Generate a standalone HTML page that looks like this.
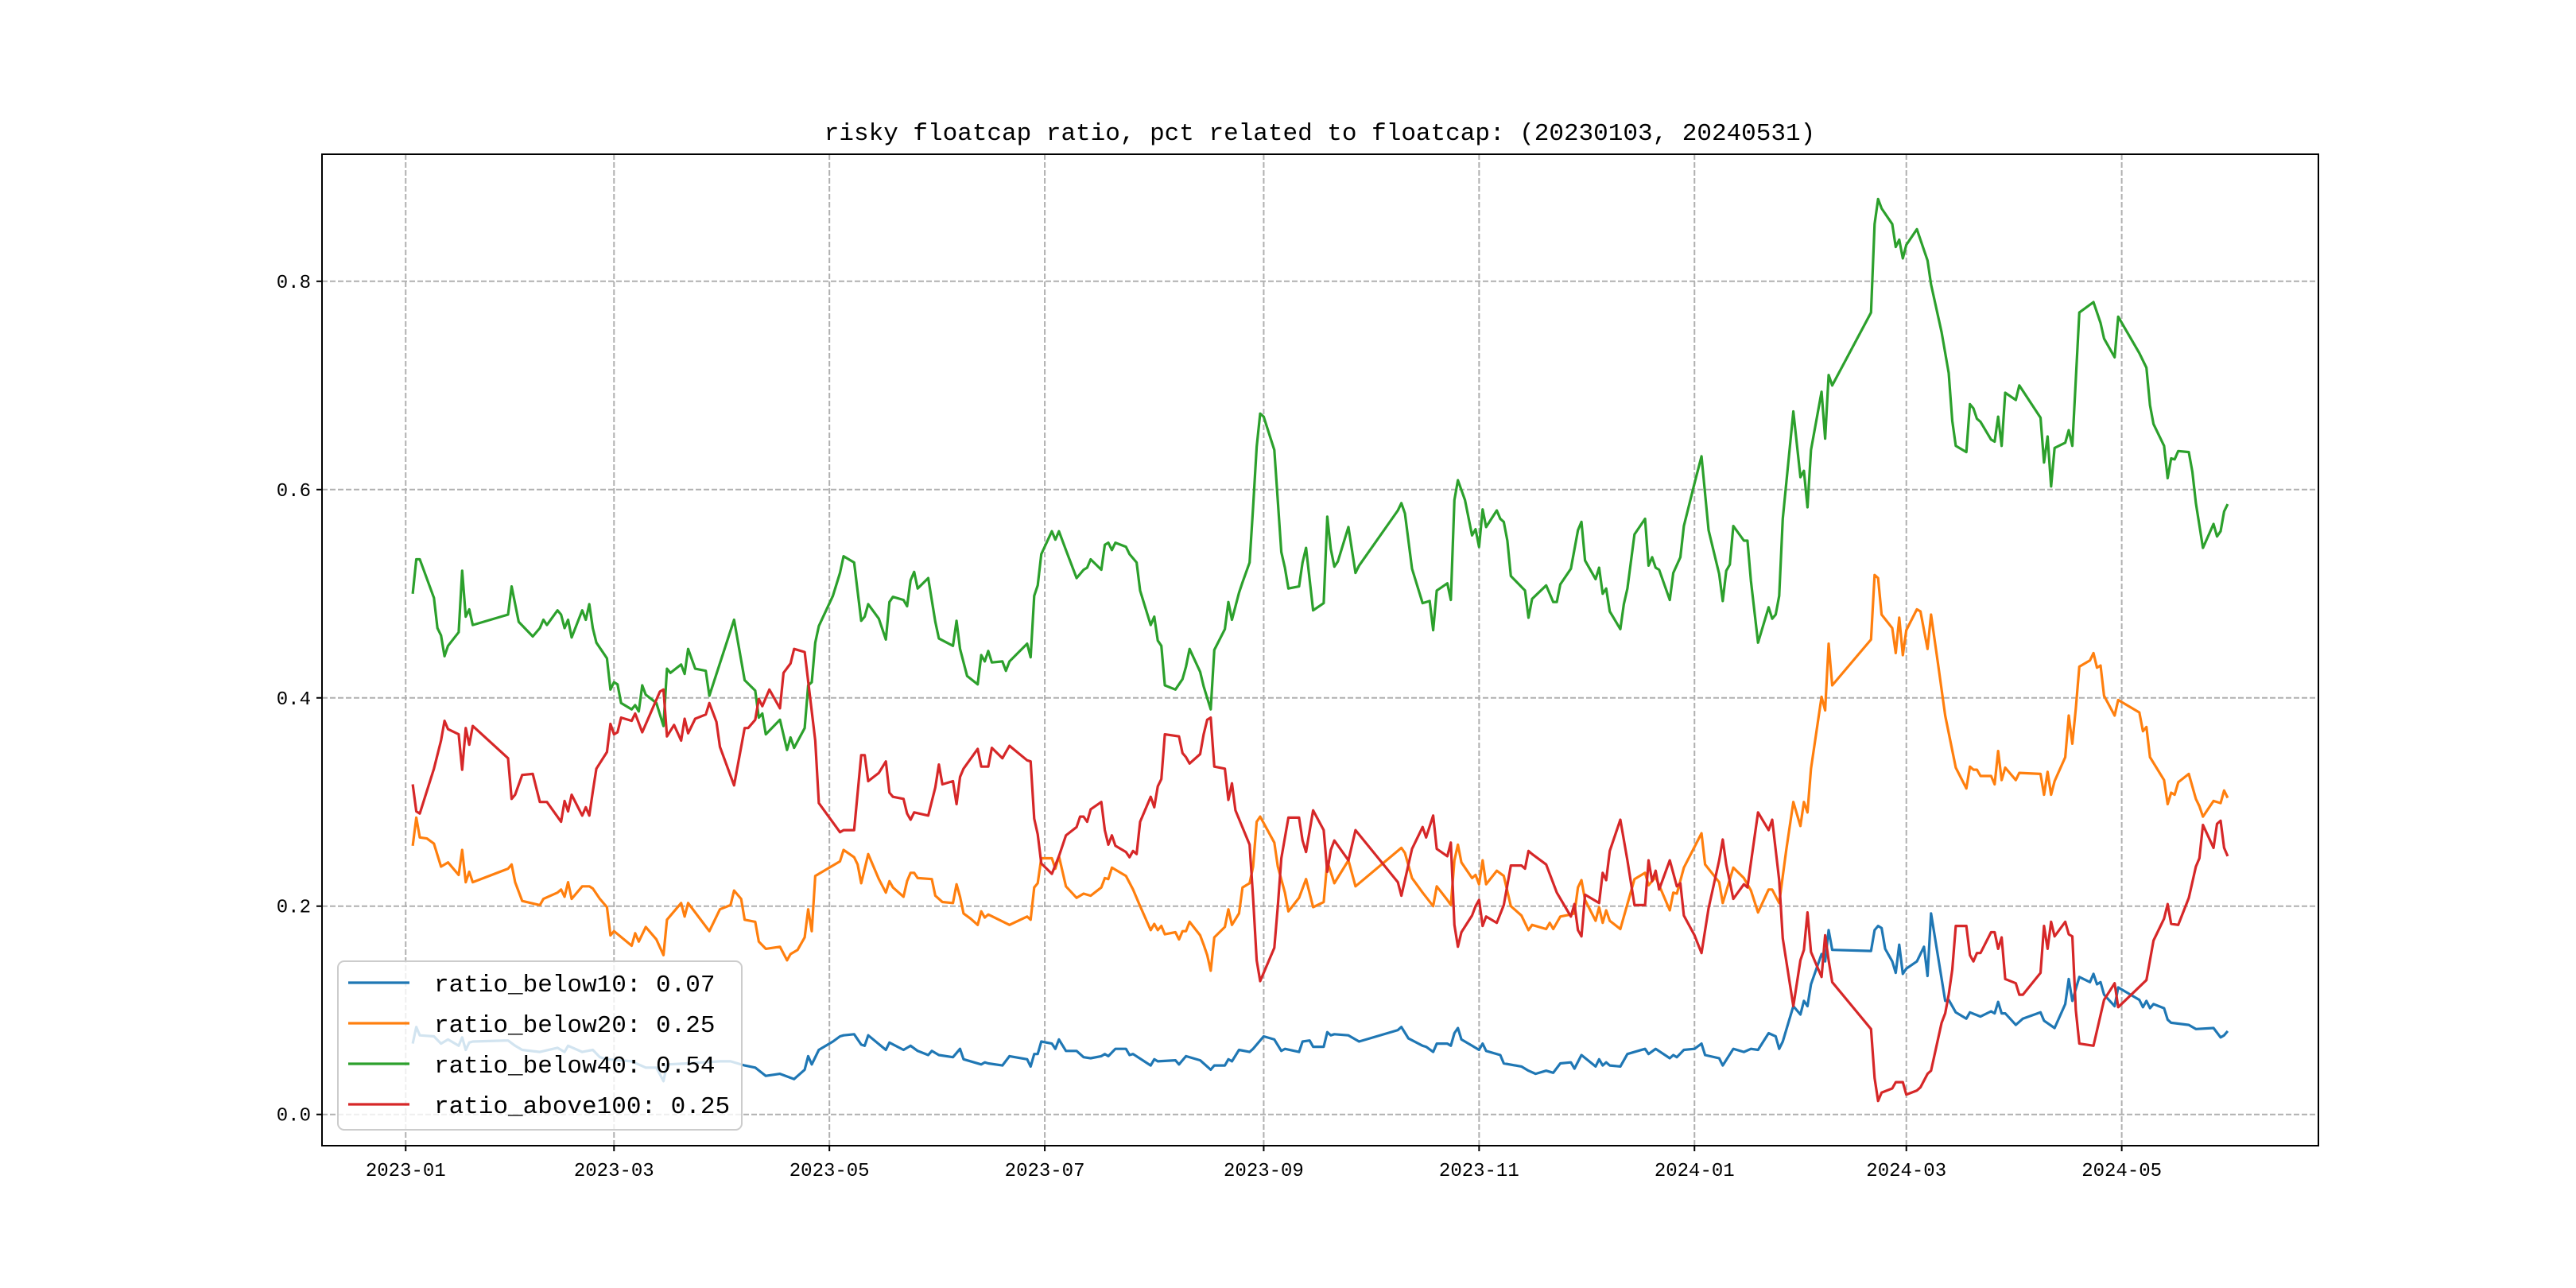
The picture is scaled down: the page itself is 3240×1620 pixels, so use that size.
<!DOCTYPE html>
<html><head><meta charset="utf-8"><style>
html,body{margin:0;padding:0;background:#fff;}
svg{display:block;}
text{font-family:"Liberation Mono","Noto Sans CJK SC",monospace;fill:#000;}
</style></head><body>
<svg id="chart" width="3240" height="1620" viewBox="0 0 3240 1620" xmlns="http://www.w3.org/2000/svg">
<rect x="0" y="0" width="3240" height="1620" fill="#fff"/>
<text x="1660" y="176" text-anchor="middle" font-size="31">risky floatcap ratio, pct related to floatcap: (20230103, 20240531)</text>
<g id="grid"></g>
<g id="series"></g>
<rect x="405" y="194" width="2511" height="1247" fill="none" stroke="#000" stroke-width="2"/>
<g id="axes"></g>
<g id="legend"></g>
</svg>
<script>
// x values are days since 2023-01-01
const xTickLabels = ["2023-01","2023-03","2023-05","2023-07","2023-09","2023-11","2024-01","2024-03","2024-05"];
const xTickDays = [0,59,120,181,243,304,365,425,486];
const yTickValues = [0.0,0.2,0.4,0.6,0.8];
const seriesNames = ["ratio_below10: 0.07","ratio_below20: 0.25","ratio_below40: 0.54","ratio_above100: 0.25"];
const seriesColors = ["#1f77b4","#ff7f0e","#2ca02c","#d62728"];

const below40Days = [2,3,4,8,9,10,11,12,15,16,17,18,19,29,30,32,36,38,39,40,43,44,45,46,47,50,51,52,53,54,57,58,59,60,61,64,65,66,67,68,71,73,74,75,78,79,80,82,85,86,93,96,99,100,101,102,106,108,109,110,113,114,115,116,117,121,123,124,127,129,130,131,134,136,137,138,141,142,143,144,145,148,150,151,155,156,157,159,162,163,164,165,166,169,170,171,176,177,178,179,180,183,184,185,187,190,192,193,194,197,198,199,200,201,204,205,207,208,211,212,213,214,215,218,220,221,222,225,226,228,229,232,233,234,236,237,239,240,241,242,243,246,248,249,250,253,254,255,257,260,261,262,263,264,267,269,270,281,282,283,285,288,290,291,292,295,296,297,298,300,302,303,304,305,306,309,310,311,312,313,317,318,319,323,325,326,327,330,332,333,334,337,338,339,340,341,344,345,346,348,351,352,353,354,355,358,359,361,362,365,367,369,372,373,374,375,376,379,380,381,383,386,387,388,389,390,393,395,396,397,398,401,402,403,404,415,416,417,418,421,422,423,424,425,428,430,431,432,435,437,438,439,442,443,444,445,446,449,450,451,452,453,456,457,463,464,465,466,467,470,471,472,474,478,480,481,484,485,491,493,494,495,498,499,500,501,502,505,506,507,509,512,513,514,515,516];
const below40Values = [.50,.533,.533,.496,.467,.46,.44,.45,.463,.522,.478,.485,.47,.48,.507,.473,.459,.467,.475,.47,.484,.48,.467,.475,.458,.484,.475,.49,.467,.453,.438,.408,.415,.413,.395,.389,.393,.387,.412,.403,.395,.373,.428,.424,.432,.423,.447,.428,.426,.402,.475,.417,.407,.381,.385,.365,.379,.35,.362,.352,.371,.412,.415,.453,.469,.498,.52,.536,.53,.474,.478,.49,.476,.456,.492,.497,.494,.488,.513,.521,.505,.515,.473,.457,.45,.474,.447,.421,.413,.441,.435,.445,.434,.435,.426,.435,.452,.439,.498,.508,.538,.56,.552,.56,.542,.515,.523,.525,.533,.523,.547,.549,.542,.549,.545,.538,.53,.503,.47,.478,.455,.45,.412,.408,.418,.43,.447,.425,.411,.389,.446,.466,.492,.475,.501,.511,.53,.583,.641,.673,.67,.638,.54,.525,.505,.507,.53,.544,.484,.491,.574,.543,.526,.531,.564,.52,.527,.58,.587,.577,.524,.491,.493,.465,.503,.51,.494,.59,.609,.59,.556,.562,.545,.581,.564,.58,.572,.569,.551,.517,.503,.477,.495,.508,.492,.492,.509,.524,.561,.569,.532,.514,.525,.5,.505,.483,.466,.49,.505,.557,.572,.527,.535,.525,.523,.494,.52,.535,.565,.606,.632,.561,.519,.493,.522,.528,.565,.551,.551,.512,.453,.487,.476,.48,.498,.572,.675,.612,.618,.583,.638,.694,.649,.71,.70,.77,.855,.879,.87,.855,.833,.84,.822,.835,.85,.83,.82,.797,.751,.712,.666,.642,.636,.682,.678,.668,.665,.648,.646,.67,.642,.693,.686,.70,.669,.626,.651,.603,.64,.645,.657,.642,.77,.78,.76,.745,.727,.766,.731,.717,.681,.663,.642,.611,.63,.629,.637,.636,.617,.587,.544,.567,.555,.56,.579,.586];

const below20Days = [2,3,4,6,8,10,12,15,16,17,18,19,29,30,31,33,38,39,43,44,45,46,47,50,52,53,55,57,58,59,64,65,66,68,71,73,74,78,79,80,84,86,89,92,93,95,96,99,100,102,106,108,109,111,113,114,115,116,121,123,124,127,128,129,131,134,136,137,138,141,142,143,144,145,149,150,152,155,156,157,158,160,162,163,164,165,171,176,177,178,179,180,183,184,185,187,190,192,194,197,198,199,200,204,206,208,211,212,213,214,215,218,219,220,221,222,225,226,227,228,229,232,233,234,236,237,239,240,241,242,246,247,249,250,253,255,257,260,261,263,267,269,282,283,285,288,291,292,295,296,297,298,299,302,303,304,305,306,309,311,313,316,318,319,323,324,325,327,330,331,332,333,334,337,338,339,340,341,344,348,351,352,354,358,359,360,362,367,368,372,373,376,379,381,383,386,387,389,391,393,395,396,397,398,401,402,403,404,415,416,417,418,421,422,423,424,425,428,429,431,432,434,436,439,442,443,444,445,446,449,450,451,452,453,456,457,463,464,465,466,467,470,471,472,473,474,477,478,479,480,481,484,485,491,492,493,494,498,499,500,501,502,505,507,508,509,512,514,515,516];
const below20Values = [.258,.285,.266,.265,.26,.238,.242,.23,.254,.223,.233,.223,.236,.24,.223,.205,.201,.207,.213,.216,.209,.223,.207,.219,.219,.217,.207,.199,.172,.176,.162,.174,.166,.18,.168,.153,.187,.203,.19,.203,.185,.176,.197,.201,.215,.207,.187,.185,.166,.159,.161,.148,.154,.158,.170,.197,.176,.229,.239,.243,.254,.247,.24,.222,.25,.226,.213,.224,.218,.209,.224,.232,.232,.227,.226,.21,.204,.203,.221,.209,.193,.188,.182,.195,.189,.192,.182,.19,.187,.218,.222,.246,.246,.236,.248,.219,.208,.212,.21,.218,.227,.226,.237,.229,.216,.2,.177,.183,.177,.181,.173,.175,.168,.176,.176,.185,.172,.163,.153,.138,.17,.18,.197,.182,.193,.218,.222,.238,.281,.286,.261,.238,.213,.195,.208,.226,.199,.204,.243,.222,.244,.219,.256,.251,.227,.213,.2,.219,.206,.201,.244,.259,.242,.227,.23,.221,.244,.221,.234,.229,.2,.191,.177,.182,.178,.184,.178,.19,.192,.193,.218,.225,.206,.186,.199,.184,.196,.186,.178,.226,.232,.22,.228,.196,.213,.212,.237,.27,.24,.223,.203,.237,.227,.215,.194,.216,.216,.203,.254,.3,.277,.30,.29,.332,.401,.388,.452,.412,.456,.518,.515,.48,.467,.443,.477,.441,.465,.485,.483,.447,.48,.432,.383,.333,.313,.334,.331,.331,.325,.325,.317,.349,.321,.333,.321,.328,.327,.307,.329,.307,.32,.343,.383,.356,.39,.43,.436,.443,.429,.431,.402,.383,.398,.386,.368,.372,.343,.321,.298,.309,.307,.319,.327,.303,.296,.286,.301,.299,.311,.304];

const above100Days = [2,3,4,8,10,11,12,15,16,17,18,19,29,30,31,33,36,38,40,44,45,46,47,50,51,52,53,54,57,58,59,60,61,64,65,67,72,73,74,76,78,79,80,82,85,86,88,89,93,96,97,99,100,101,103,106,107,109,110,113,116,117,123,124,127,129,130,131,134,136,137,138,141,142,143,144,148,150,151,152,155,156,157,158,162,163,165,166,169,170,171,176,177,178,179,180,183,185,187,190,191,192,193,194,197,198,199,200,201,204,205,206,207,208,211,212,213,214,215,219,220,221,222,225,226,227,228,229,232,233,234,235,239,240,241,242,246,247,248,250,253,254,255,257,260,261,262,263,267,269,281,282,285,288,289,291,292,295,296,297,298,299,302,303,304,305,306,309,311,313,316,317,318,319,323,326,330,331,332,333,334,338,339,340,341,344,346,348,351,352,353,354,355,358,360,361,362,365,367,369,372,373,374,376,379,380,381,383,386,387,389,390,393,395,396,397,398,401,402,403,404,415,416,417,418,421,422,424,425,428,429,431,432,435,436,437,438,439,442,443,444,445,446,449,450,451,452,453,456,457,458,463,464,465,466,467,470,471,472,473,474,478,481,484,485,493,495,498,499,500,502,505,507,508,509,512,513,514,515,516];
const above100Values = [.317,.291,.289,.332,.359,.378,.37,.365,.331,.371,.355,.373,.342,.303,.307,.326,.327,.3,.3,.281,.301,.291,.307,.287,.295,.287,.31,.332,.348,.375,.365,.367,.381,.378,.385,.367,.406,.408,.363,.374,.359,.38,.366,.38,.384,.395,.377,.353,.316,.371,.371,.379,.399,.392,.408,.39,.424,.433,.447,.444,.359,.299,.271,.273,.273,.345,.345,.32,.328,.339,.309,.305,.303,.289,.283,.29,.287,.314,.336,.317,.32,.298,.324,.332,.351,.334,.334,.352,.342,.348,.354,.34,.339,.284,.269,.241,.231,.248,.268,.276,.286,.286,.281,.293,.3,.273,.259,.268,.258,.252,.247,.253,.25,.281,.305,.295,.315,.322,.365,.363,.347,.343,.337,.346,.365,.379,.381,.334,.332,.302,.318,.292,.259,.208,.148,.128,.16,.2,.246,.285,.285,.263,.252,.292,.273,.233,.254,.263,.244,.273,.223,.21,.255,.276,.266,.287,.255,.248,.261,.182,.161,.175,.191,.2,.206,.181,.19,.184,.201,.239,.239,.236,.253,.25,.24,.213,.19,.202,.177,.171,.211,.203,.232,.225,.253,.283,.244,.201,.201,.244,.224,.234,.216,.244,.219,.222,.191,.172,.155,.198,.244,.264,.24,.207,.221,.218,.242,.29,.273,.283,.225,.169,.104,.148,.158,.194,.156,.132,.172,.148,.127,.082,.035,.013,.021,.025,.031,.031,.019,.023,.026,.039,.042,.088,.097,.115,.139,.181,.181,.153,.147,.155,.155,.175,.175,.159,.17,.13,.126,.115,.115,.136,.181,.159,.185,.171,.185,.173,.171,.1,.068,.066,.11,.126,.103,.129,.167,.188,.202,.183,.182,.208,.238,.246,.278,.256,.279,.282,.256,.248];

const below10Days = [2,3,4,8,10,12,15,16,17,18,19,29,31,33,38,43,45,46,50,53,55,57,64,68,71,73,74,80,89,92,96,99,102,106,110,113,114,115,117,121,123,124,127,129,130,131,136,137,141,143,145,148,149,151,155,157,158,163,164,165,169,171,176,177,178,179,180,183,184,185,187,190,192,194,197,198,199,201,204,205,206,211,212,213,218,219,221,225,226,228,229,232,233,234,236,239,240,243,246,248,249,253,254,256,257,260,261,262,263,267,270,281,282,284,288,289,291,292,295,296,297,298,299,302,304,305,306,310,311,316,318,320,323,325,327,330,331,333,337,338,339,340,341,344,346,351,352,354,358,359,360,362,365,367,368,372,373,376,379,381,383,386,388,389,390,393,395,396,397,398,401,402,403,404,415,416,417,418,419,421,422,423,424,425,428,430,431,432,436,437,439,442,443,446,449,450,451,452,453,456,458,463,464,467,470,471,472,474,477,478,479,480,481,484,485,491,492,493,494,495,498,499,500,505,507,512,514,515,516];
const below10Values = [.068,.084,.076,.075,.068,.072,.066,.074,.062,.069,.07,.071,.066,.062,.06,.064,.06,.066,.06,.062,.055,.053,.051,.045,.045,.032,.048,.049,.051,.051,.047,.045,.037,.039,.034,.043,.056,.048,.062,.07,.075,.076,.077,.067,.066,.076,.062,.069,.062,.066,.061,.057,.061,.057,.055,.063,.053,.048,.05,.049,.047,.056,.053,.046,.058,.058,.07,.068,.063,.072,.061,.061,.055,.054,.056,.058,.056,.063,.063,.057,.058,.047,.053,.051,.052,.048,.056,.052,.049,.043,.047,.047,.053,.051,.062,.06,.063,.075,.072,.061,.063,.06,.07,.071,.065,.065,.079,.076,.077,.076,.07,.081,.084,.073,.066,.065,.06,.068,.068,.066,.078,.083,.072,.066,.062,.068,.061,.057,.049,.046,.042,.039,.042,.04,.049,.05,.044,.057,.046,.053,.047,.05,.047,.046,.058,.063,.058,.063,.054,.057,.055,.062,.063,.068,.057,.054,.047,.063,.06,.063,.062,.078,.075,.063,.07,.104,.096,.109,.104,.125,.154,.147,.177,.158,.157,.177,.181,.179,.159,.147,.136,.163,.135,.14,.147,.161,.133,.193,.109,.11,.098,.092,.098,.094,.099,.097,.108,.097,.097,.086,.092,.098,.09,.083,.106,.13,.109,.132,.127,.135,.125,.127,.115,.104,.122,.11,.103,.109,.102,.106,.102,.091,.088,.086,.082,.083,.074,.076,.08];

const plotL=405, plotR=2916, plotT=194, plotB=1441;
const xMin=-23.7, xMax=541.7, yMin=-0.030, yMax=0.922;
function xScale(d){return plotL+(d-xMin)/(xMax-xMin)*(plotR-plotL);}
function yScale(v){return plotB-(v-yMin)/(yMax-yMin)*(plotB-plotT);}
const NS="http://www.w3.org/2000/svg";
function mk(tag,attrs,parent){const e=document.createElementNS(NS,tag);for(const k in attrs)e.setAttribute(k,attrs[k]);parent.appendChild(e);return e;}

const grid=document.getElementById('grid'), axes=document.getElementById('axes');
xTickDays.forEach((d,i)=>{
  const x=xScale(d);
  const gl=mk('line',{x1:x,x2:x,y1:plotT,y2:plotB,stroke:'#b0b0b0','stroke-width':2,'stroke-dasharray':'7,3'},grid);
  
  
  const tk=mk('line',{x1:x,x2:x,y1:plotB,y2:plotB+7,stroke:'#000','stroke-width':2},axes);
  
  
  const t=mk('text',{x:x,y:plotB+38,'text-anchor':'middle','font-size':24},axes);
  t.textContent=xTickLabels[i];
  
  
});
yTickValues.forEach(v=>{
  const y=yScale(v);
  const gl=mk('line',{x1:plotL,x2:plotR,y1:y,y2:y,stroke:'#b0b0b0','stroke-width':2,'stroke-dasharray':'7,3'},grid);
  
  
  const tk=mk('line',{x1:plotL-7,x2:plotL,y1:y,y2:y,stroke:'#000','stroke-width':2},axes);
  
  
  const t=mk('text',{x:plotL-14,y:y+8,'text-anchor':'end','font-size':24},axes);
  t.textContent=v.toFixed(1);
  
  
});

const seriesDays=[below10Days,below20Days,below40Days,above100Days];
const seriesValues=[below10Values,below20Values,below40Values,above100Values];
const sg=document.getElementById('series');
const lineNames=['line-ratio-below10','line-ratio-below20','line-ratio-below40','line-ratio-above100'];
seriesDays.forEach((days,s)=>{
  const vals=seriesValues[s];
  const pts=days.map((d,i)=>xScale(d).toFixed(1)+','+yScale(vals[i]).toFixed(1)).join(' ');
  const pl=mk('polyline',{points:pts,fill:'none',stroke:seriesColors[s],'stroke-width':3.2,'stroke-linejoin':'round'},sg);
  
  
});

const lg=document.getElementById('legend');
const box=mk('rect',{x:425,y:1209,width:508,height:212,rx:8,fill:'rgba(255,255,255,0.8)',stroke:'#cccccc','stroke-width':2},lg);


const rowYs=[1236,1287,1338,1389];
const entryNames=['legend-entry-below10','legend-entry-below20','legend-entry-below40','legend-entry-above100'];
seriesNames.forEach((n,i)=>{
  const g=mk('g',{},lg);
  
  
  mk('line',{x1:438,x2:515,y1:rowYs[i],y2:rowYs[i],stroke:seriesColors[i],'stroke-width':3.2},g);
  const t=mk('text',{x:546,y:rowYs[i]+11,'font-size':31},g);
  t.textContent=n;
});
</script>
</body></html>
